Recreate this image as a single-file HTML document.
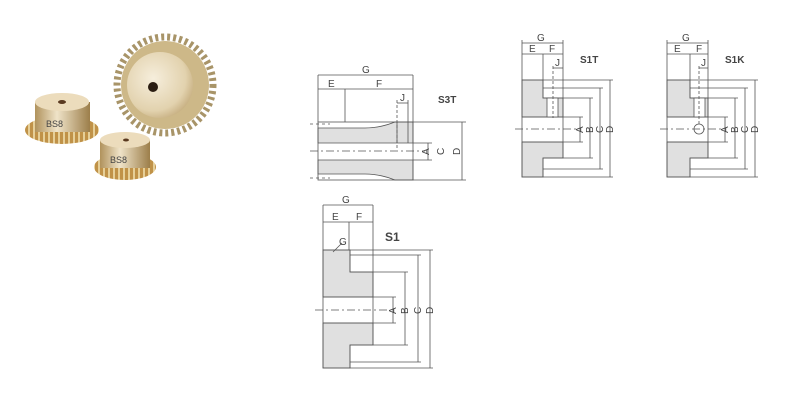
<!DOCTYPE html>
<html><head><style>
body{margin:0;background:#fff;width:800px;height:412px;overflow:hidden}
svg{display:block}
text{font-family:"Liberation Sans",sans-serif;fill:#444}
</style></head><body>
<svg width="800" height="412" viewBox="0 0 800 412">
<defs>
<radialGradient id="gb" cx="0.4" cy="0.4" r="0.7"><stop offset="0" stop-color="#f6eedc"/><stop offset="0.7" stop-color="#e2d2ae"/><stop offset="1" stop-color="#bfa574"/></radialGradient>
<linearGradient id="cyl" x1="0" x2="1"><stop offset="0" stop-color="#b0925c"/><stop offset="0.4" stop-color="#efe3c8"/><stop offset="1" stop-color="#9c7e4a"/></linearGradient>
<pattern id="teeth" width="5" height="10" patternUnits="userSpaceOnUse"><rect width="3" height="10" fill="#c09248"/><rect x="3" width="2" height="10" fill="#e6cf98"/></pattern>
</defs>
<circle cx="165" cy="85" r="48" fill="none" stroke="#a89468" stroke-width="7" stroke-dasharray="3 3"/>
<circle cx="165" cy="85" r="44" fill="#cdb888"/>
<circle cx="160" cy="85" r="33" fill="url(#gb)"/>
<circle cx="153" cy="87" r="5" fill="#2a1d12"/>
<ellipse cx="62" cy="130" rx="37" ry="14" fill="url(#teeth)"/>
<rect x="35" y="102" width="55" height="30" fill="url(#cyl)"/>
<ellipse cx="62" cy="102" rx="27" ry="9" fill="#ecdcbc"/>
<ellipse cx="62" cy="102" rx="4" ry="2" fill="#5a3a20"/>
<text x="46" y="127" font-size="9" fill="#a98">BS8</text>
<ellipse cx="125" cy="167" rx="31" ry="13" fill="url(#teeth)"/>
<rect x="100" y="140" width="50" height="28" fill="url(#cyl)"/>
<ellipse cx="125" cy="140" rx="25" ry="8" fill="#ecdcbc"/>
<ellipse cx="126" cy="140" rx="3" ry="1.5" fill="#5a3a20"/>
<text x="110" y="163" font-size="9" fill="#a98">BS8</text>

<g stroke="#555" stroke-width="0.8" fill="none">
<path d="M318 128 L365 128 Q380 128 395 122 L413 122 L413 143 L318 143 Z" fill="#e0e0e0"/>
<path d="M318 160 L413 160 L413 180 L395 180 Q380 174 365 174 L318 174 Z" fill="#e0e0e0"/>
<rect x="318" y="122" width="95" height="58"/>
<line x1="397" y1="122" x2="397" y2="143"/><line x1="408" y1="122" x2="408" y2="143"/>
<line x1="318" y1="75" x2="318" y2="122"/><line x1="413" y1="75" x2="413" y2="122"/>
<line x1="318" y1="75" x2="413" y2="75"/><line x1="318" y1="89" x2="413" y2="89"/>
<line x1="345" y1="89" x2="345" y2="122"/>
<line x1="397" y1="103" x2="408" y2="103"/><line x1="397" y1="100" x2="397" y2="148" stroke-dasharray="3 2"/><line x1="408" y1="100" x2="408" y2="122"/>
<line x1="310" y1="151" x2="425" y2="151" stroke-dasharray="8 3 2 3"/>
<line x1="413" y1="143" x2="432" y2="143"/><line x1="413" y1="160" x2="432" y2="160"/>
<line x1="413" y1="122" x2="466" y2="122"/><line x1="413" y1="180" x2="466" y2="180"/>
<line x1="428" y1="143" x2="428" y2="160"/><line x1="462" y1="122" x2="462" y2="180"/>
<line x1="310" y1="124" x2="330" y2="124" stroke-dasharray="3 3"/><line x1="310" y1="178" x2="330" y2="178" stroke-dasharray="3 3"/>

<path d="M522 80 L543 80 L543 98 L563 98 L563 117 L522 117 Z" fill="#e0e0e0"/>
<path d="M522 142 L563 142 L563 158 L543 158 L543 177 L522 177 Z" fill="#e0e0e0"/>
<path d="M522 80 L543 80 L543 98 L563 98 L563 158 L543 158 L543 177 L522 177 Z"/>
<line x1="522" y1="117" x2="563" y2="117"/><line x1="522" y1="142" x2="563" y2="142"/>
<rect x="547" y="98" width="11" height="19" fill="#fff"/>
<line x1="522" y1="40" x2="522" y2="80"/><line x1="563" y1="40" x2="563" y2="98"/>
<line x1="522" y1="43" x2="563" y2="43"/><line x1="522" y1="54" x2="563" y2="54"/>
<line x1="543" y1="54" x2="543" y2="80"/>
<line x1="553" y1="68" x2="563" y2="68"/><line x1="553" y1="66" x2="553" y2="118" stroke-dasharray="3 2"/>
<line x1="515" y1="129" x2="576" y2="129" stroke-dasharray="8 3 2 3"/>
<line x1="563" y1="117" x2="583" y2="117"/><line x1="563" y1="142" x2="583" y2="142"/>
<line x1="563" y1="98" x2="593" y2="98"/><line x1="563" y1="158" x2="593" y2="158"/>
<line x1="543" y1="88" x2="603" y2="88"/><line x1="543" y1="169" x2="603" y2="169"/>
<line x1="543" y1="80" x2="613" y2="80"/><line x1="543" y1="177" x2="613" y2="177"/>
<line x1="580" y1="117" x2="580" y2="142"/><line x1="590" y1="98" x2="590" y2="158"/>
<line x1="600" y1="88" x2="600" y2="169"/><line x1="610" y1="80" x2="610" y2="177"/>

<path d="M667 80 L690 80 L690 98 L708 98 L708 117 L667 117 Z" fill="#e0e0e0"/>
<path d="M667 142 L708 142 L708 158 L690 158 L690 177 L667 177 Z" fill="#e0e0e0"/>
<path d="M667 80 L690 80 L690 98 L708 98 L708 158 L690 158 L690 177 L667 177 Z"/>
<line x1="667" y1="117" x2="708" y2="117"/><line x1="667" y1="142" x2="708" y2="142"/>
<rect x="694" y="98" width="11" height="19" fill="#fff"/>
<circle cx="699" cy="129" r="5"/>
<line x1="667" y1="40" x2="667" y2="80"/><line x1="708" y1="40" x2="708" y2="98"/>
<line x1="667" y1="43" x2="708" y2="43"/><line x1="667" y1="54" x2="708" y2="54"/>
<line x1="690" y1="54" x2="690" y2="80"/>
<line x1="699" y1="68" x2="708" y2="68"/><line x1="699" y1="66" x2="699" y2="124" stroke-dasharray="3 2"/>
<line x1="660" y1="129" x2="721" y2="129" stroke-dasharray="8 3 2 3"/>
<line x1="708" y1="117" x2="728" y2="117"/><line x1="708" y1="142" x2="728" y2="142"/>
<line x1="708" y1="98" x2="738" y2="98"/><line x1="708" y1="158" x2="738" y2="158"/>
<line x1="690" y1="88" x2="748" y2="88"/><line x1="690" y1="169" x2="748" y2="169"/>
<line x1="690" y1="80" x2="758" y2="80"/><line x1="690" y1="177" x2="758" y2="177"/>
<line x1="725" y1="117" x2="725" y2="142"/><line x1="735" y1="98" x2="735" y2="158"/>
<line x1="745" y1="88" x2="745" y2="169"/><line x1="755" y1="80" x2="755" y2="177"/>

<path d="M323 250 L350 250 L350 272 L373 272 L373 297 L323 297 Z" fill="#e0e0e0"/>
<path d="M323 323 L373 323 L373 345 L350 345 L350 368 L323 368 Z" fill="#e0e0e0"/>
<path d="M323 250 L350 250 L350 272 L373 272 L373 345 L350 345 L350 368 L323 368 Z"/>
<line x1="323" y1="297" x2="373" y2="297"/><line x1="323" y1="323" x2="373" y2="323"/>
<line x1="323" y1="205" x2="323" y2="250"/><line x1="373" y1="205" x2="373" y2="272"/>
<line x1="323" y1="205" x2="373" y2="205"/><line x1="323" y1="222" x2="373" y2="222"/>
<line x1="349" y1="222" x2="349" y2="250"/>
<line x1="333" y1="252" x2="342" y2="243"/>
<line x1="315" y1="310" x2="388" y2="310" stroke-dasharray="8 3 2 3"/>
<line x1="373" y1="297" x2="396" y2="297"/><line x1="373" y1="323" x2="396" y2="323"/>
<line x1="373" y1="272" x2="408" y2="272"/><line x1="373" y1="345" x2="408" y2="345"/>
<line x1="350" y1="255" x2="421" y2="255"/><line x1="350" y1="362" x2="421" y2="362"/>
<line x1="350" y1="250" x2="433" y2="250"/><line x1="350" y1="368" x2="433" y2="368"/>
<line x1="393" y1="297" x2="393" y2="323"/><line x1="405" y1="272" x2="405" y2="345"/>
<line x1="418" y1="255" x2="418" y2="362"/><line x1="430" y1="250" x2="430" y2="368"/>
</g>
<g font-size="10">
<text x="362" y="73">G</text><text x="328" y="87">E</text><text x="376" y="87">F</text><text x="400" y="101">J</text>
<text x="438" y="103" font-weight="bold" fill="#222">S3T</text>
<text x="537" y="41">G</text><text x="529" y="52">E</text><text x="549" y="52">F</text><text x="555" y="66">J</text>
<text x="580" y="63" font-weight="bold" fill="#222">S1T</text>
<text x="682" y="41">G</text><text x="674" y="52">E</text><text x="696" y="52">F</text><text x="701" y="66">J</text>
<text x="725" y="63" font-weight="bold" fill="#222">S1K</text>
<text x="342" y="203">G</text><text x="332" y="220">E</text><text x="356" y="220">F</text><text x="339" y="245">G</text>
<text x="385" y="241" font-weight="bold" font-size="12" fill="#222">S1</text>
</g>
<g font-size="10">
<text transform="translate(429,155) rotate(-90)">A</text>
<text transform="translate(444,155) rotate(-90)">C</text>
<text transform="translate(460,155) rotate(-90)">D</text>
<text transform="translate(583,133) rotate(-90)">A</text><text transform="translate(593,133) rotate(-90)">B</text>
<text transform="translate(603,133) rotate(-90)">C</text><text transform="translate(613,133) rotate(-90)">D</text>
<text transform="translate(728,133) rotate(-90)">A</text><text transform="translate(738,133) rotate(-90)">B</text>
<text transform="translate(748,133) rotate(-90)">C</text><text transform="translate(758,133) rotate(-90)">D</text>
<text transform="translate(396,314) rotate(-90)">A</text><text transform="translate(408,314) rotate(-90)">B</text>
<text transform="translate(421,314) rotate(-90)">C</text><text transform="translate(433,314) rotate(-90)">D</text>
</g>
</svg>
</body></html>
